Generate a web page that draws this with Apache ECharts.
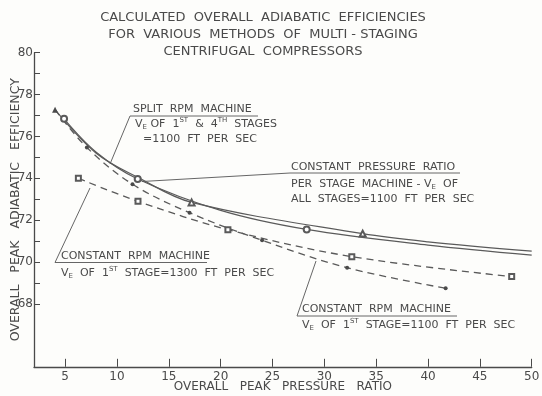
<!DOCTYPE html>
<html>
<head>
<meta charset="utf-8">
<script src="https://cdn.jsdelivr.net/npm/echarts@6/dist/echarts.min.js"></script>
<style>
html,body{margin:0;padding:0;background:#fdfdfb;}
#c{width:542px;height:396px;}
</style>
</head>
<body>
<div id="c"></div>
<script>
// ---- data ----
const titleLines = [
  "CALCULATED  OVERALL  ADIABATIC  EFFICIENCIES",
  "FOR  VARIOUS  METHODS  OF  MULTI - STAGING",
  "CENTRIFUGAL  COMPRESSORS"
];
const xAxisName = "OVERALL   PEAK   PRESSURE   RATIO";
const yAxisName = "OVERALL   PEAK   ADIABATIC   EFFICIENCY";
const xTicks = [5, 10, 15, 20, 25, 30, 35, 40, 45, 50];
const yLabels = [68, 70, 72, 74, 76, 78, 80];
const yTicks = [68, 69, 70, 71, 72, 73, 74, 75, 76, 77, 78, 79, 80];

// constant pressure ratio per stage machine (solid, open circles)
const cprX = [4.9, 8.0, 12.0, 20.0, 28.3, 40.0, 50.0];
const cprY = [76.84, 75.25, 73.97, 72.47, 71.56, 70.81, 70.33];
const cprMarked = [1, 0, 1, 0, 1, 0, 0];

// split rpm machine (solid, triangles)
const splitX = [4.03, 8.0, 12.0, 17.2, 33.7, 40.0, 50.0];
const splitY = [77.28, 75.2, 74.05, 72.85, 71.36, 70.97, 70.52];
const splitMarked = [2, 0, 0, 1, 1, 0, 0];

// constant rpm machine, 1st stage 1100 ft/s (dashed, filled dots)
const rpm1100X = [4.03, 7.1, 11.5, 17.0, 24.0, 32.2, 41.7];
const rpm1100Y = [77.28, 75.47, 73.72, 72.36, 71.04, 69.73, 68.75];
const rpm1100Marked = [0, 1, 1, 1, 1, 1, 1];

// constant rpm machine, 1st stage 1300 ft/s (dashed, open squares)
const rpm1300X = [6.28, 12.03, 20.7, 32.65, 48.07];
const rpm1300Y = [74.0, 72.9, 71.55, 70.26, 69.31];
const rpm1300Marked = [1, 1, 1, 1, 1];

// ---- chart ----
const INK = '#4a4a4a';
const FONT = 'DejaVu Sans';

function pts(xs, ys, marks, sym, filledSym) {
  return xs.map((x, i) => {
    const o = {value: [x, ys[i]]};
    if (!marks[i]) o.symbol = 'none';
    else if (marks[i] === 2) { o.symbol = filledSym; o.itemStyle = {color: INK}; }
    else o.symbol = sym;
    return o;
  });
}

const chart = echarts.init(document.getElementById('c'), null, {renderer: 'canvas'});
const baseText = {fontFamily: FONT, fontSize: 11, fill: INK};
const rich = {
  e: {fontSize: 7, fontFamily: FONT, fill: INK, verticalAlign: 'bottom', color: INK},
  s: {fontSize: 7, fontFamily: FONT, fill: INK, verticalAlign: 'top', color: INK}
};
function txt(x, y, text, extra) {
  return {type: 'text', x: x, y: y, silent: true,
    style: Object.assign({text: text, rich: rich, verticalAlign: 'middle', lineHeight: 14}, baseText, extra || {})};
}
function ln(x1, y1, x2, y2) {
  return {type: 'line', silent: true, shape: {x1: x1, y1: y1, x2: x2, y2: y2},
    style: {stroke: '#666', lineWidth: 1}};
}

const option = {
  backgroundColor: '#fdfdfb',
  animation: false,
  grid: {left: 34, right: 10.3, top: 52.7, bottom: 29.2, containLabel: false, outerBoundsMode: 'none'},
  xAxis: {
    type: 'value', min: 2, max: 50,
    axisLine: {show: true, lineStyle: {color: INK, width: 1.3}},
    axisTick: {show: true, inside: true, length: 8, customValues: xTicks, lineStyle: {color: INK, width: 1}},
    axisLabel: {customValues: xTicks, color: INK, fontFamily: FONT, fontSize: 12, margin: 4},
    splitLine: {show: false},
    name: xAxisName, nameLocation: 'middle', nameGap: 14, nameMoveOverlap: false,
    nameTextStyle: {color: INK, fontFamily: FONT, fontSize: 12}
  },
  yAxis: {
    type: 'value', min: 65, max: 80,
    axisLine: {show: true, lineStyle: {color: INK, width: 1.3}},
    axisTick: {show: true, inside: true, length: 6, customValues: yTicks, lineStyle: {color: INK, width: 1}},
    axisLabel: {customValues: yLabels, color: INK, fontFamily: FONT, fontSize: 12, margin: 1},
    splitLine: {show: false},
    name: yAxisName, nameLocation: 'middle', nameGap: 12, nameRotate: 90, nameMoveOverlap: false,
    nameTextStyle: {color: INK, fontFamily: FONT, fontSize: 12.5}
  },
  series: [
    {type: 'line', name: 'Constant pressure ratio', smooth: 0.35,
     data: pts(cprX, cprY, cprMarked, 'emptyCircle', 'circle'),
     symbolSize: 6, lineStyle: {color: '#5a5a5a', width: 1.2}, itemStyle: {color: '#5a5a5a', borderWidth: 1}},
    {type: 'line', name: 'Split RPM', smooth: 0.35,
     data: pts(splitX, splitY, splitMarked, 'emptyTriangle', 'triangle'),
     symbolSize: 6, lineStyle: {color: '#5a5a5a', width: 1.2}, itemStyle: {color: '#5a5a5a', borderWidth: 1}},
    {type: 'line', name: 'Constant RPM 1100', smooth: 0.35,
     data: pts(rpm1100X, rpm1100Y, rpm1100Marked, 'circle', 'circle'),
     symbolSize: 4, lineStyle: {color: '#5a5a5a', width: 1.3, type: [7, 5]}, itemStyle: {color: '#4a4a4a'}},
    {type: 'line', name: 'Constant RPM 1300', smooth: 0.35,
     data: pts(rpm1300X, rpm1300Y, rpm1300Marked, 'emptyRect', 'rect'),
     symbolSize: 5, lineStyle: {color: '#5a5a5a', width: 1.3, type: [7, 5]}, itemStyle: {color: '#5a5a5a', borderWidth: 1}}
  ],
  graphic: [
    {type: 'text', x: 263, y: 9.5, silent: true,
     style: {text: titleLines.join('\n'), textAlign: 'center', verticalAlign: 'top', lineHeight: 17,
             fontFamily: FONT, fontSize: 13, fill: INK}},
    // split rpm label
    txt(133, 109, 'SPLIT  RPM  MACHINE'),
    ln(130, 116, 258, 116),
    txt(135, 124, 'V{e|E} OF  1{s|ST}  &  4{s|TH}  STAGES'),
    txt(143, 139, '=1100  FT  PER  SEC'),
    ln(130, 116, 110, 164),
    // constant pressure ratio label
    txt(291, 167, 'CONSTANT  PRESSURE  RATIO'),
    ln(290, 173, 460, 173),
    txt(291, 184, 'PER  STAGE  MACHINE - V{e|E}  OF'),
    txt(291, 199, 'ALL  STAGES=1100  FT  PER  SEC'),
    ln(290, 173, 142, 181.5),
    // constant rpm 1300 label
    txt(61, 256, 'CONSTANT  RPM  MACHINE'),
    ln(55, 262.5, 207, 262.5),
    txt(61, 273, 'V{e|E}  OF  1{s|ST}  STAGE=1300  FT  PER  SEC'),
    ln(55, 262.5, 90, 188),
    // constant rpm 1100 label
    txt(302, 309, 'CONSTANT  RPM  MACHINE'),
    ln(297, 316, 457, 316),
    txt(302, 325, 'V{e|E}  OF  1{s|ST}  STAGE=1100  FT  PER  SEC'),
    ln(297, 316, 316, 261)
  ]
};
chart.setOption(option);
</script>
</body>
</html>
